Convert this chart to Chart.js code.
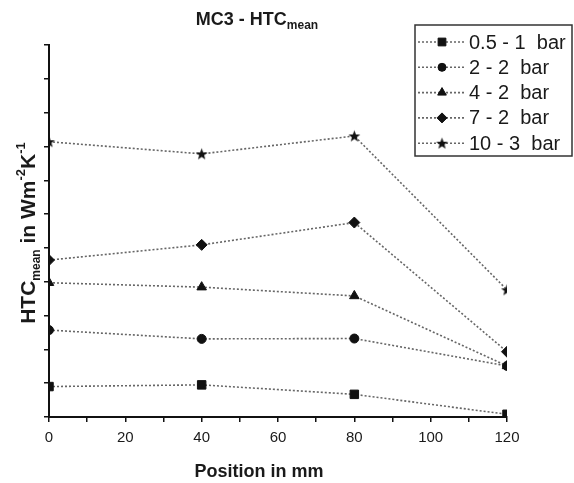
<!DOCTYPE html>
<html>
<head>
<meta charset="utf-8">
<script src="https://cdn.jsdelivr.net/npm/chart.js@4.4.1/dist/chart.umd.min.js"></script>
<style>
  html, body { margin: 0; padding: 0; background: #fff; }
  #wrap { width: 574px; height: 483px; position: relative; }
</style>
</head>
<body>
<div id="wrap"><canvas id="htcChart" width="574" height="483"></canvas></div>
<script>
// Positions along the part (mm)
const positions = [0, 40, 80, 120];

// HTC mean values per pressure setting (arbitrary units)
const seriesLabels = ['0.5 - 1  bar', '2 - 2  bar', '4 - 2  bar', '7 - 2  bar', '10 - 3  bar'];
const htc05_1 = [0.90, 0.95, 0.67, 0.08];
const htc2_2 = [2.57, 2.31, 2.32, 1.51];
const htc4_2 = [3.97, 3.84, 3.58, 1.51];
const htc7_2 = [4.64, 5.09, 5.75, 1.93];
const htc10_3 = [8.14, 7.78, 8.31, 3.76];

const xTicks = [0, 20, 40, 60, 80, 100, 120];

// filled 5 point star, since the built-in 'star' is just crossed lines
function makeStar() {
    const c = document.createElement('canvas');
    c.width = 13; c.height = 13;
    const g = c.getContext('2d');
    g.fillStyle = '#111';
    g.beginPath();
    for (let i = 0; i < 10; i++) {
        const r = i % 2 === 0 ? 6.2 : 2.6;
        const a = -Math.PI / 2 + i * Math.PI / 5;
        const px = 6.5 + r * Math.cos(a);
        const py = 7 + r * Math.sin(a);
        if (i === 0) g.moveTo(px, py); else g.lineTo(px, py);
    }
    g.closePath();
    g.fill();
    return c;
}
const starImg = makeStar();

const styles = ['rect', 'circle', 'triangle', 'rectRot', starImg];
const radii = [6, 4.5, 5.5, 5.5, 6];
const allData = [htc05_1, htc2_2, htc4_2, htc7_2, htc10_3];

const datasets = allData.map((vals, i) => ({
    label: seriesLabels[i],
    data: vals.map((v, j) => ({ x: positions[j], y: v })),
    borderColor: '#666',
    borderWidth: 1.6,
    borderDash: [2, 2],
    tension: 0,
    pointStyle: styles[i],
    pointRadius: radii[i],
    pointBackgroundColor: '#111',
    pointBorderColor: '#111',
    pointBorderWidth: 1,
    clip: 0
}));

// draws a run of text pieces with sub/superscripts, returns width
function drawRich(ctx, parts, x, y, measureOnly) {
    let cx = x;
    parts.forEach(p => {
        ctx.font = p.font;
        if (!measureOnly) ctx.fillText(p.text, cx, y + (p.dy || 0));
        cx += ctx.measureText(p.text).width;
    });
    return cx - x;
}

// markers on the edges are cut in half in the original, so clip hard
const clipToArea = {
    id: 'clipToArea',
    beforeDatasetsDraw(chart) {
        const a = chart.chartArea;
        chart.ctx.save();
        chart.ctx.beginPath();
        chart.ctx.rect(a.left, a.top, a.right - a.left, a.bottom - a.top);
        chart.ctx.clip();
    },
    afterDatasetsDraw(chart) {
        chart.ctx.restore();
    }
};

const decorations = {
    id: 'decorations',
    afterDraw(chart) {
        const ctx = chart.ctx;
        ctx.save();
        ctx.fillStyle = '#1a1a1a';
        ctx.textBaseline = 'alphabetic';
        ctx.textAlign = 'left';

        // title
        const F = '"Liberation Sans", Arial, sans-serif';
        const titleParts = [
            { text: 'MC3 - HTC', font: 'bold 18px ' + F },
            { text: 'mean', font: 'bold 12px ' + F, dy: 4 }
        ];
        const tw = drawRich(ctx, titleParts, 0, 0, true);
        drawRich(ctx, titleParts, 257 - tw / 2, 25);

        // y axis title, rotated
        const yParts = [
            { text: 'HTC', font: 'bold 21px ' + F },
            { text: 'mean', font: 'bold 12px ' + F, dy: 5 },
            { text: ' in Wm', font: 'bold 21px ' + F },
            { text: '-2', font: 'bold 13px ' + F, dy: -10 },
            { text: 'K', font: 'bold 21px ' + F },
            { text: '-1', font: 'bold 13px ' + F, dy: -10 }
        ];
        const yw = drawRich(ctx, yParts, 0, 0, true);
        ctx.save();
        ctx.translate(35, 233);
        ctx.rotate(-Math.PI / 2);
        drawRich(ctx, yParts, -yw / 2, 0);
        ctx.restore();

        // x axis title
        ctx.font = 'bold 18px ' + F;
        ctx.textAlign = 'center';
        ctx.fillText('Position in mm', 259, 477);

        // legend box
        const bx = 415, by = 25, bw = 157, bh = 131;
        ctx.fillStyle = '#fff';
        ctx.fillRect(bx, by, bw, bh);
        ctx.strokeStyle = '#333';
        ctx.lineWidth = 1.5;
        ctx.strokeRect(bx, by, bw, bh);

        chart.data.datasets.forEach((ds, i) => {
            const yy = 42 + i * 25.3;
            ctx.save();
            ctx.strokeStyle = '#666';
            ctx.lineWidth = 1.6;
            ctx.setLineDash([2, 2]);
            ctx.beginPath();
            ctx.moveTo(418, yy);
            ctx.lineTo(466, yy);
            ctx.stroke();
            ctx.restore();

            ctx.fillStyle = '#111';
            ctx.strokeStyle = '#111';
            ctx.lineWidth = 1;
            if (Chart.helpers && Chart.helpers.drawPoint) {
                Chart.helpers.drawPoint(ctx, { pointStyle: ds.pointStyle, rotation: 0, radius: ds.pointRadius - 0.5, borderWidth: 1 }, 442, yy);
            }

            ctx.fillStyle = '#1a1a1a';
            ctx.font = '20px ' + F;
            ctx.textAlign = 'left';
            ctx.textBaseline = 'middle';
            ctx.fillText(ds.label, 469, yy + 1);
        });
        ctx.restore();
    }
};

new Chart(document.getElementById('htcChart').getContext('2d'), {
    type: 'line',
    data: { datasets: datasets },
    options: {
        responsive: false,
        animation: false,
        layout: { padding: { top: 45, right: 67, left: 0, bottom: 0 } },
        plugins: {
            legend: { display: false },
            tooltip: { enabled: false },
            title: { display: false }
        },
        scales: {
            x: {
                type: 'linear',
                min: 0,
                max: 120,
                afterFit: (scale) => { scale.height = 66; },
                border: { color: '#111', width: 2 },
                grid: { drawOnChartArea: false, tickLength: 5, color: '#111', lineWidth: 1.5 },
                ticks: {
                    stepSize: 10,
                    padding: 7,
                    color: '#1a1a1a',
                    font: { family: '"Liberation Sans", Arial, sans-serif', size: 15 },
                    maxRotation: 0,
                    autoSkip: false,
                    callback: (v) => xTicks.includes(v) ? String(v) : ''
                }
            },
            y: {
                type: 'linear',
                min: 0,
                max: 11,
                afterFit: (scale) => { scale.width = 49; },
                border: { color: '#111', width: 2 },
                grid: { drawOnChartArea: false, tickLength: 5, color: '#111', lineWidth: 1.5 },
                ticks: {
                    stepSize: 1,
                    callback: () => ''
                }
            }
        }
    },
    plugins: [clipToArea, decorations]
});
</script>
</body>
</html>
